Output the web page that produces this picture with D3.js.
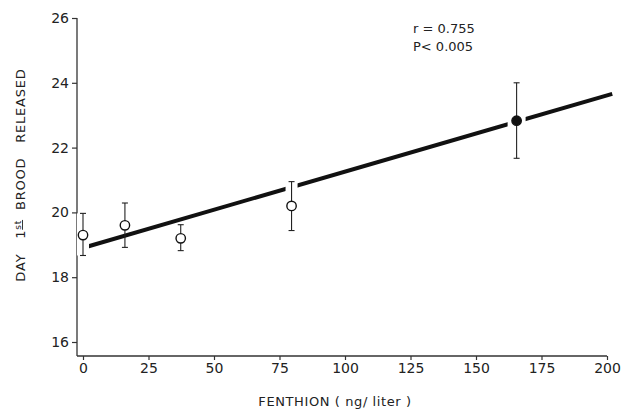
<!DOCTYPE html>
<html>
<head>
<meta charset="utf-8">
<script src="https://cdn.jsdelivr.net/npm/d3@7"></script>
<style>
  body { margin: 0; background: #fff; }
  text { font-family: "DejaVu Sans", sans-serif; fill: #222; white-space: pre; }
</style>
</head>
<body>
<div id="chart"></div>
<script>
// fenthion concentration (ng/liter) vs day first brood released
const conc   = [0, 16, 37.3, 79.6, 165.5];
const dayMean = [19.3, 19.6, 19.2, 20.2, 22.83];
const dayHi   = [19.97, 20.29, 19.62, 20.95, 24.0];
const dayLo   = [18.67, 18.92, 18.82, 19.44, 21.67];
const filled  = [false, false, false, false, true];
const gapped  = [true, false, false, true, true];

// regression line end points
const fitX = [1.5, 202];
const fitY = [18.94, 23.66];

const xTicks = [0, 25, 50, 75, 100, 125, 150, 175, 200];
const yTicks = [16, 18, 20, 22, 24, 26];
const yTickLabels = ["16", "18", "20", "22", "24", "26"];

const width = 625, height = 410;

const svg = d3.select("#chart").append("svg")
    .attr("width", width)
    .attr("height", height);

const x = d3.scaleLinear().domain([0, 200]).range([83, 607]);
const y = d3.scaleLinear().domain([16, 26]).range([342, 18]);

const axisX = 77, axisY = 356;

// axis lines
svg.append("line")
    .attr("x1", axisX).attr("x2", axisX)
    .attr("y1", y(26)).attr("y2", axisY)
    .attr("stroke", "#333").attr("stroke-width", 1.3);
svg.append("line")
    .attr("x1", axisX).attr("x2", x(200))
    .attr("y1", axisY).attr("y2", axisY)
    .attr("stroke", "#333").attr("stroke-width", 1.3);

// y axis
const gy = svg.append("g")
    .attr("transform", "translate(" + axisX + ",0)")
    .call(d3.axisLeft(y).tickValues(yTicks).tickSize(5).tickPadding(3)
        .tickFormat((d, i) => yTickLabels[i]));
gy.select(".domain").remove();
gy.selectAll(".tick line").attr("stroke", "#333").attr("stroke-width", 1.2);
gy.selectAll(".tick text").style("font-size", "14px").attr("fill", "#222");

// x axis
const gx = svg.append("g")
    .attr("transform", "translate(0," + axisY + ")")
    .call(d3.axisBottom(x).tickValues(xTicks).tickSize(4).tickPadding(3));
gx.select(".domain").remove();
gx.selectAll(".tick line").attr("stroke", "#333").attr("stroke-width", 1.2);
gx.selectAll(".tick text").style("font-size", "14px").attr("fill", "#222");

// regression line
svg.append("line")
    .attr("x1", x(fitX[0])).attr("y1", y(fitY[0]))
    .attr("x2", x(fitX[1])).attr("y2", y(fitY[1]))
    .attr("stroke", "#111")
    .attr("stroke-width", 4);

const pts = conc.map((c, i) => ({
    c: c, m: dayMean[i], hi: dayHi[i], lo: dayLo[i], f: filled[i], g: gapped[i]
}));

// white halo breaking the line where error bars cross
svg.selectAll(".halo")
    .data(pts.filter(d => d.g))
    .join("line")
    .attr("class", "halo")
    .attr("x1", d => x(d.c)).attr("x2", d => x(d.c))
    .attr("y1", d => y(d.hi)).attr("y2", d => y(d.lo))
    .attr("stroke", "#fff")
    .attr("stroke-width", d => d.f ? 18 : 12);

// error bars
const bars = svg.selectAll(".bar")
    .data(pts)
    .join("g")
    .attr("class", "bar")
    .attr("stroke", "#222")
    .attr("stroke-width", 1.1);
bars.append("line")
    .attr("x1", d => x(d.c)).attr("x2", d => x(d.c))
    .attr("y1", d => y(d.hi)).attr("y2", d => y(d.lo));
bars.append("line")
    .attr("x1", d => x(d.c) - 3).attr("x2", d => x(d.c) + 3)
    .attr("y1", d => y(d.hi)).attr("y2", d => y(d.hi));
bars.append("line")
    .attr("x1", d => x(d.c) - 3).attr("x2", d => x(d.c) + 3)
    .attr("y1", d => y(d.lo)).attr("y2", d => y(d.lo));

// points
svg.selectAll(".pt")
    .data(pts)
    .join("circle")
    .attr("class", "pt")
    .attr("cx", d => x(d.c))
    .attr("cy", d => y(d.m))
    .attr("r", 4.7)
    .attr("fill", d => d.f ? "#111" : "#fff")
    .attr("stroke", "#111")
    .attr("stroke-width", 1.4);

// stats
svg.append("text")
    .attr("x", 413).attr("y", 33)
    .style("font-size", "13px")
    .text("r = 0.755");
svg.append("text")
    .attr("x", 413).attr("y", 51)
    .style("font-size", "13px")
    .text("P< 0.005");

// axis titles
svg.append("text")
    .attr("x", 335).attr("y", 406)
    .attr("text-anchor", "middle")
    .style("font-size", "13px")
    .style("letter-spacing", "0.6px")
    .text("FENTHION ( ng/ liter )");

const yl = svg.append("text")
    .attr("transform", "translate(25,175) rotate(-90)")
    .attr("text-anchor", "middle")
    .style("font-size", "13px")
    .style("letter-spacing", "0.8px");
yl.append("tspan").text("DAY   1");
yl.append("tspan")
    .attr("dy", "-4")
    .style("font-size", "9px")
    .style("text-decoration", "underline")
    .text("st");
yl.append("tspan").attr("dy", "4").text("  BROOD   RELEASED");
</script>
</body>
</html>
